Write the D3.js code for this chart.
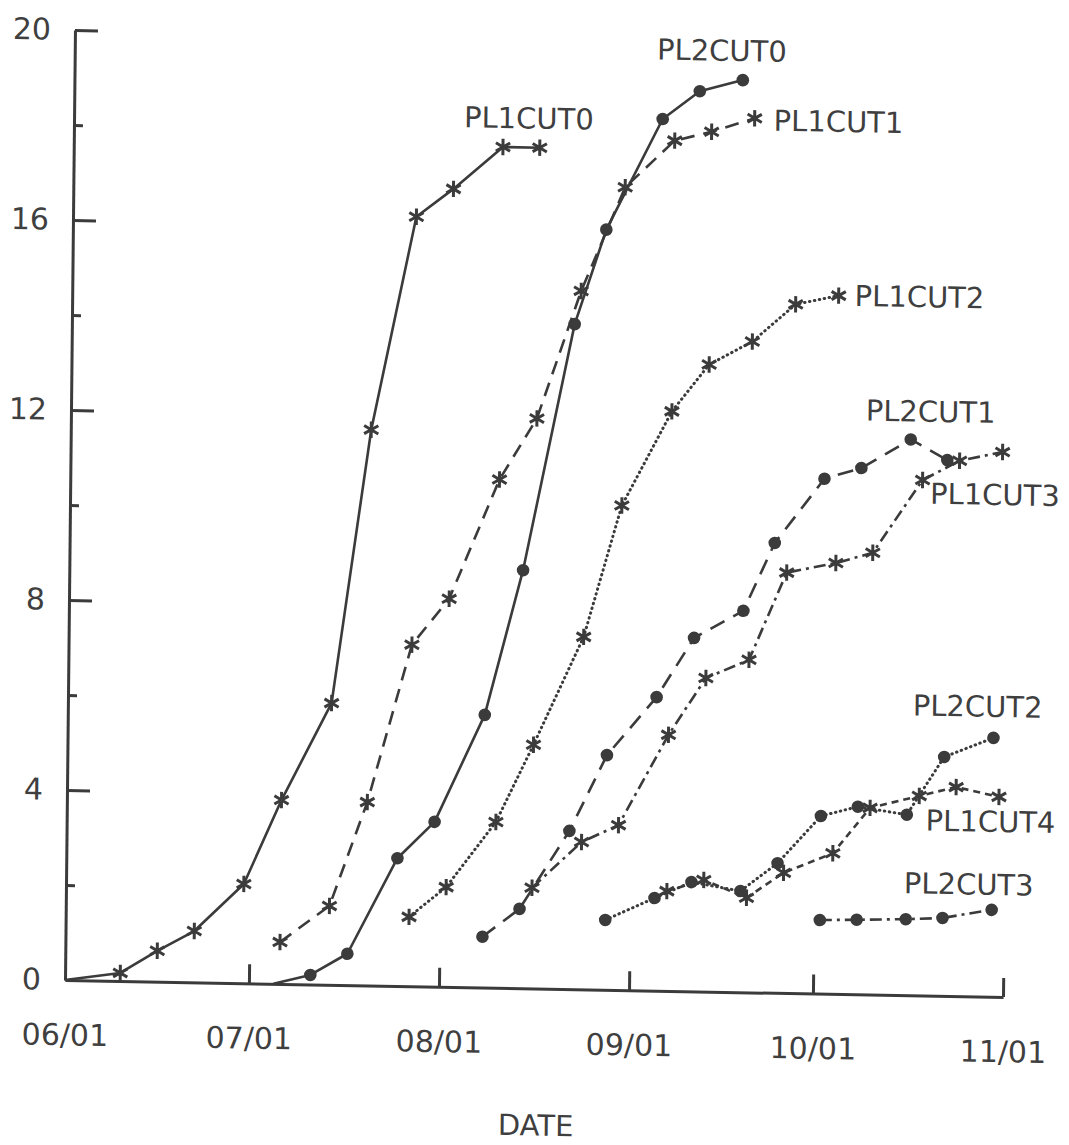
<!DOCTYPE html>
<html>
<head>
<meta charset="utf-8">
<script src="https://cdn.jsdelivr.net/npm/d3@7"></script>
<style>
  html, body { margin: 0; padding: 0; background: #ffffff; }
  svg { display: block; }
  text { font-family: "DejaVu Sans", sans-serif; fill: #3f3f3f; }
</style>
</head>
<body>
<svg id="chart" width="1069" height="1145"></svg>
<script>
// ---- data -------------------------------------------------------------
const xTickLabels = ["06/01", "07/01", "08/01", "09/01", "10/01", "11/01"];
const yTickValues = [0, 4, 8, 12, 16, 20];
const yMinorTicks = [2, 6, 10, 14, 18];
const xAxisTitle = "DATE";

const pl1cut0Dates  = ["06/01","06/10","06/16","06/22","06/30","07/06","07/14","07/20","07/27","08/02","08/10","08/16"];
const pl1cut0Values = [0, 0.17, 0.65, 1.08, 2.09, 3.87, 5.93, 11.7, 16.2, 16.8, 17.7, 17.7];

const pl1cut1Dates  = ["07/06","07/14","07/20","07/27","08/02","08/10","08/16","08/23","08/30","09/07","09/13","09/20"];
const pl1cut1Values = [0.88, 1.66, 3.86, 7.19, 8.17, 10.7, 12.0, 14.7, 16.9, 17.9, 18.1, 18.4];

const pl1cut2Dates  = ["07/27","08/02","08/10","08/16","08/24","08/30","09/07","09/13","09/20","09/27","10/04"];
const pl1cut2Values = [1.46, 2.1, 3.49, 5.13, 7.42, 10.2, 12.2, 13.2, 13.7, 14.5, 14.7];

const pl1cut3Dates  = ["08/16","08/24","08/30","09/07","09/13","09/20","09/26","10/04","10/10","10/18","10/24","10/31"];
const pl1cut3Values = [2.12, 3.1, 3.47, 5.39, 6.6, 7.0, 8.85, 9.07, 9.3, 10.85, 11.27, 11.47];

const pl1cut4Dates  = ["09/07","09/13","09/20","09/26","10/04","10/10","10/18","10/24","10/31"];
const pl1cut4Values = [2.1, 2.35, 1.99, 2.53, 2.96, 3.93, 4.2, 4.4, 4.21];

const pl2cut0Dates  = ["07/05","07/11","07/17","07/25","07/31","08/08","08/14","08/22","08/27","09/05","09/11","09/18"];
const pl2cut0Values = [0, 0.2, 0.66, 2.69, 3.47, 5.74, 8.8, 14.0, 16.0, 18.35, 18.95, 19.2];

const pl2cut1Dates  = ["08/08","08/14","08/22","08/28","09/05","09/11","09/19","09/24","10/02","10/08","10/16","10/22"];
const pl2cut1Values = [1.07, 1.67, 3.33, 4.94, 6.18, 7.44, 8.03, 9.47, 10.84, 11.08, 11.7, 11.28];

const pl2cut2Dates  = ["08/28","09/05","09/11","09/19","09/25","10/02","10/08","10/16","10/22","10/30"];
const pl2cut2Values = [1.47, 1.95, 2.3, 2.13, 2.73, 3.74, 3.95, 3.8, 5.03, 5.45];

const pl2cut3Dates  = ["10/02","10/08","10/16","10/22","10/30"];
const pl2cut3Values = [1.55, 1.57, 1.6, 1.64, 1.83];

// ---- series table -----------------------------------------------------
const parse = d3.timeParse("%m/%d");
const fmt = d3.timeFormat("%m/%d");

const DOTTED = "0.5,4.5";
const DASH_DOT = "12,5,3,5";

const series = [
  { name: "PL1CUT0", dates: pl1cut0Dates, values: pl1cut0Values, marker: "star",   dash: null,     label: [-76, -19] },
  { name: "PL1CUT1", dates: pl1cut1Dates, values: pl1cut1Values, marker: "star",   dash: "14,9",   label: [19, 12] },
  { name: "PL1CUT2", dates: pl1cut2Dates, values: pl1cut2Values, marker: "star",   dash: DOTTED,   label: [16, 10] },
  { name: "PL1CUT3", dates: pl1cut3Dates, values: pl1cut3Values, marker: "star",   dash: DASH_DOT, label: [-72, 53] },
  { name: "PL1CUT4", dates: pl1cut4Dates, values: pl1cut4Values, marker: "star",   dash: "7,5",    label: [-73, 35] },
  { name: "PL2CUT0", dates: pl2cut0Dates, values: pl2cut0Values, marker: "circle", dash: null,     label: [-86, -19] },
  { name: "PL2CUT1", dates: pl2cut1Dates, values: pl2cut1Values, marker: "circle", dash: "16,10",  label: [-82, -38] },
  { name: "PL2CUT2", dates: pl2cut2Dates, values: pl2cut2Values, marker: "circle", dash: DOTTED,   label: [-81, -21] },
  { name: "PL2CUT3", dates: pl2cut3Dates, values: pl2cut3Values, marker: "circle", dash: DASH_DOT, label: [-88, -15] }
].map(s => ({ ...s, points: s.dates.map((d, i) => ({ date: parse(d), value: s.values[i] })) }));

// ---- layout -----------------------------------------------------------
const ink = "#3b3b3b";
const textInk = "#3f3f3f";
const svg = d3.select("#chart");
svg.append("rect").attr("width", 1069).attr("height", 1145).attr("fill", "#ffffff");

// plotting frame, slightly skewed like the hand-drafted original
const g = svg.append("g")
  .attr("transform", "translate(65,980) matrix(1,0.0181,-0.0105,1,0,0)");

const x = d3.scaleTime()
  .domain([parse(xTickLabels[0]), parse(xTickLabels[xTickLabels.length - 1])])
  .range([0, 938]);
const y = d3.scaleLinear().domain([0, 20]).range([0, -950]);

// x axis: ticks point up into the plot
const xAxis = g.append("g")
  .call(d3.axisBottom(x)
    .tickValues(xTickLabels.map(parse))
    .tickFormat(fmt)
    .tickSizeInner(-19)
    .tickSizeOuter(0)
    .tickPadding(44));
xAxis.selectAll("path.domain, line").attr("stroke", ink).attr("stroke-width", 3);
xAxis.selectAll("text").attr("font-size", 30).attr("fill", textInk)
  .style("font-family", "'DejaVu Sans', sans-serif");
xAxis.selectAll(".tick").filter((d, i) => i === 0).select("line").remove();

// y axis: major ticks labelled, minor ticks short
const yAxis = g.append("g")
  .call(d3.axisLeft(y)
    .tickValues(yTickValues)
    .tickFormat(d3.format("d"))
    .tickSizeInner(-23)
    .tickSizeOuter(0)
    .tickPadding(24));
yAxis.selectAll("path.domain, line").attr("stroke", ink).attr("stroke-width", 3);
yAxis.selectAll("text").attr("font-size", 30).attr("fill", textInk)
  .style("font-family", "'DejaVu Sans', sans-serif");
yAxis.selectAll(".tick").filter(d => d === 0).select("line").remove();

const yMinor = g.append("g")
  .call(d3.axisLeft(y).tickValues(yMinorTicks).tickFormat("").tickSizeInner(-9).tickSizeOuter(0));
yMinor.select("path.domain").remove();
yMinor.selectAll("line").attr("stroke", ink).attr("stroke-width", 3);

// x axis title
g.append("text")
  .attr("x", x(parse("08/17")))
  .attr("y", 147)
  .attr("text-anchor", "middle")
  .attr("font-size", 29)
  .text(xAxisTitle);

// ---- series -----------------------------------------------------------
const line = d3.line().x(d => x(d.date)).y(d => y(d.value));

series.forEach(s => {
  const dotted = s.dash === DOTTED;
  g.append("path")
    .datum(s.points)
    .attr("d", line)
    .attr("fill", "none")
    .attr("stroke", ink)
    .attr("stroke-width", dotted ? 3 : 2.6)
    .attr("stroke-linecap", dotted ? "round" : "butt")
    .attr("stroke-linejoin", "round")
    .attr("stroke-dasharray", s.dash);
});

const star = d3.symbol().type(d3.symbolAsterisk).size(190);
const dot = d3.symbol().type(d3.symbolCircle).size(125);

series.forEach(s => {
  const marks = g.append("g").selectAll("path")
    .data(s.points.filter(p => p.value > 0))
    .join("path")
    .attr("transform", d => `translate(${x(d.date)},${y(d.value)})`);
  if (s.marker === "star") {
    marks.attr("d", star).attr("fill", "none").attr("stroke", ink).attr("stroke-width", 3);
  } else {
    marks.attr("d", dot).attr("fill", ink);
  }
});

// series labels, placed beside each curve's last point
series.forEach(s => {
  const last = s.points[s.points.length - 1];
  g.append("text")
    .attr("x", x(last.date) + s.label[0])
    .attr("y", y(last.value) + s.label[1])
    .attr("font-size", 29)
    .text(s.name);
});
</script>
</body>
</html>
